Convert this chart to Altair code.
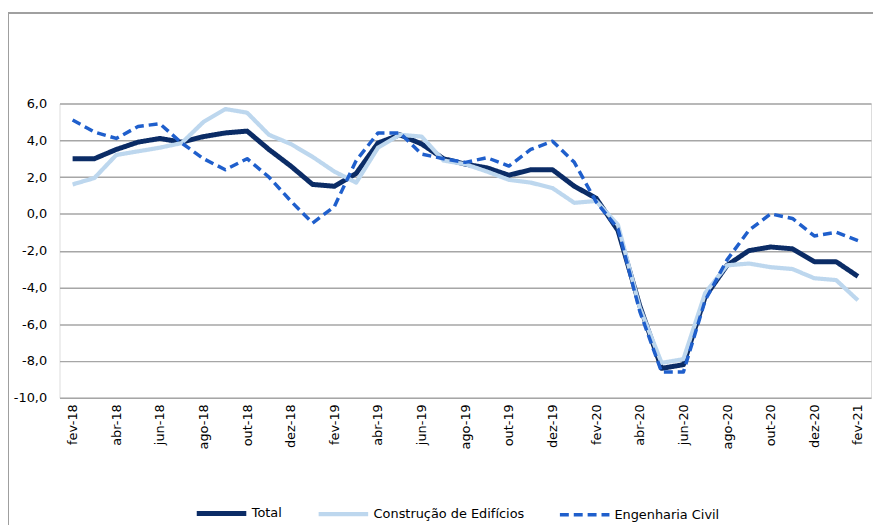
import altair as alt
import pandas as pd

months = ["fev-18","mar-18","abr-18","mai-18","jun-18","jul-18","ago-18","set-18","out-18","nov-18","dez-18",
          "jan-19","fev-19","mar-19","abr-19","mai-19","jun-19","jul-19","ago-19","set-19","out-19","nov-19","dez-19",
          "jan-20","fev-20","mar-20","abr-20","mai-20","jun-20","jul-20","ago-20","set-20","out-20","nov-20","dez-20",
          "jan-21","fev-21"]

total = [3.0,3.0,3.5,3.9,4.1,3.9,4.2,4.4,4.5,3.5,2.6,1.6,1.5,2.2,3.85,4.3,3.8,3.0,2.7,2.5,2.1,2.4,2.4,1.5,0.85,
         -0.9,-5.0,-8.4,-8.2,-4.5,-2.8,-2.0,-1.8,-1.9,-2.6,-2.6,-3.4]
construcao = [1.6,1.95,3.2,3.4,3.6,3.85,5.0,5.7,5.5,4.3,3.8,3.1,2.3,1.7,3.6,4.3,4.2,2.9,2.7,2.3,1.85,1.7,1.4,0.6,0.7,
              -0.6,-5.1,-8.1,-7.9,-4.3,-2.8,-2.7,-2.9,-3.0,-3.5,-3.6,-4.7]
engenharia = [5.1,4.45,4.1,4.75,4.9,3.85,3.0,2.4,3.0,2.0,0.7,-0.5,0.4,2.9,4.4,4.4,3.25,3.0,2.8,3.05,2.6,3.5,3.95,2.8,0.65,
              -0.8,-5.3,-8.6,-8.6,-4.7,-2.5,-0.9,0.0,-0.25,-1.2,-1.0,-1.45]

series_names = ["Total", "Construção de Edifícios", "Engenharia Civil"]
series_values = [total, construcao, engenharia]
series_colors = ["#0B2C66", "#BDD7EE", "#1F5FCC"]
series_widths = [5, 3.5, 3.5]
series_dashes = [[1, 0], [1, 0], [9, 5]]

y_ticks = [-10, -8, -6, -4, -2, 0, 2, 4, 6]
x_label_months = months[::2]

rows = []
for name, vals in zip(series_names, series_values):
    for m, v in zip(months, vals):
        rows.append({"mes": m, "valor": v, "serie": name})
df = pd.DataFrame(rows)

FONT = "DejaVu Sans"
FS = 13


def leg():
    return alt.Legend(title=None, orient="none", legendX=136, legendY=386,
                      direction="horizontal", symbolType="stroke", symbolSize=2500,
                      labelOffset=3, columnPadding=28, labelFont=FONT,
                      labelFontSize=FS, labelColor="#000000")


lines = alt.Chart(df).mark_line(strokeCap="butt", strokeJoin="round").encode(
    x=alt.X("mes:N", sort=months, scale=alt.Scale(type="point", padding=0.6),
            axis=alt.Axis(title=None, values=x_label_months, labelAngle=-90, domain=False,
                          ticks=False, tickSize=0, labelPadding=6, grid=False,
                          labelFont=FONT, labelFontSize=FS, labelColor="#000000")),
    y=alt.Y("valor:Q", scale=alt.Scale(domain=[-10, 6], nice=False, zero=False),
            axis=alt.Axis(title=None, values=y_ticks, domain=False, ticks=False, tickSize=0,
                          labelPadding=13, grid=True, gridColor="#A6A6A6", gridWidth=1.5,
                          labelExpr="replace(replace(format(datum.value, '.1f'), '.', ','), '\u2212', '-')",
                          labelFont=FONT, labelFontSize=FS, labelColor="#000000")),
    color=alt.Color("serie:N", sort=series_names,
                    scale=alt.Scale(domain=series_names, range=series_colors), legend=leg()),
    strokeWidth=alt.StrokeWidth("serie:N", sort=series_names,
                                scale=alt.Scale(domain=series_names, range=series_widths),
                                legend=leg()),
    strokeDash=alt.StrokeDash("serie:N", sort=series_names,
                              scale=alt.Scale(domain=series_names, range=series_dashes),
                              legend=leg()),
)

border_left = alt.Chart(df).mark_rule(color="#A0A0A0", strokeWidth=1.5).encode(
    x=alt.value(-52), y=alt.value(-91), y2=alt.value(600))
border_top = alt.Chart(df).mark_rule(color="#A0A0A0", strokeWidth=1.5).encode(
    x=alt.value(-52), x2=alt.value(900), y=alt.value(-91))

chart = alt.layer(border_left, border_top, lines).properties(
    width=819, height=297,
    autosize=alt.AutoSizeParams(type="none"),
    padding={"left": 52, "top": 94, "right": 2, "bottom": 126},
).configure_view(stroke=None).configure(background="#FFFFFF")

chart.save("out.html", embed_options={"renderer": "svg", "actions": False})
